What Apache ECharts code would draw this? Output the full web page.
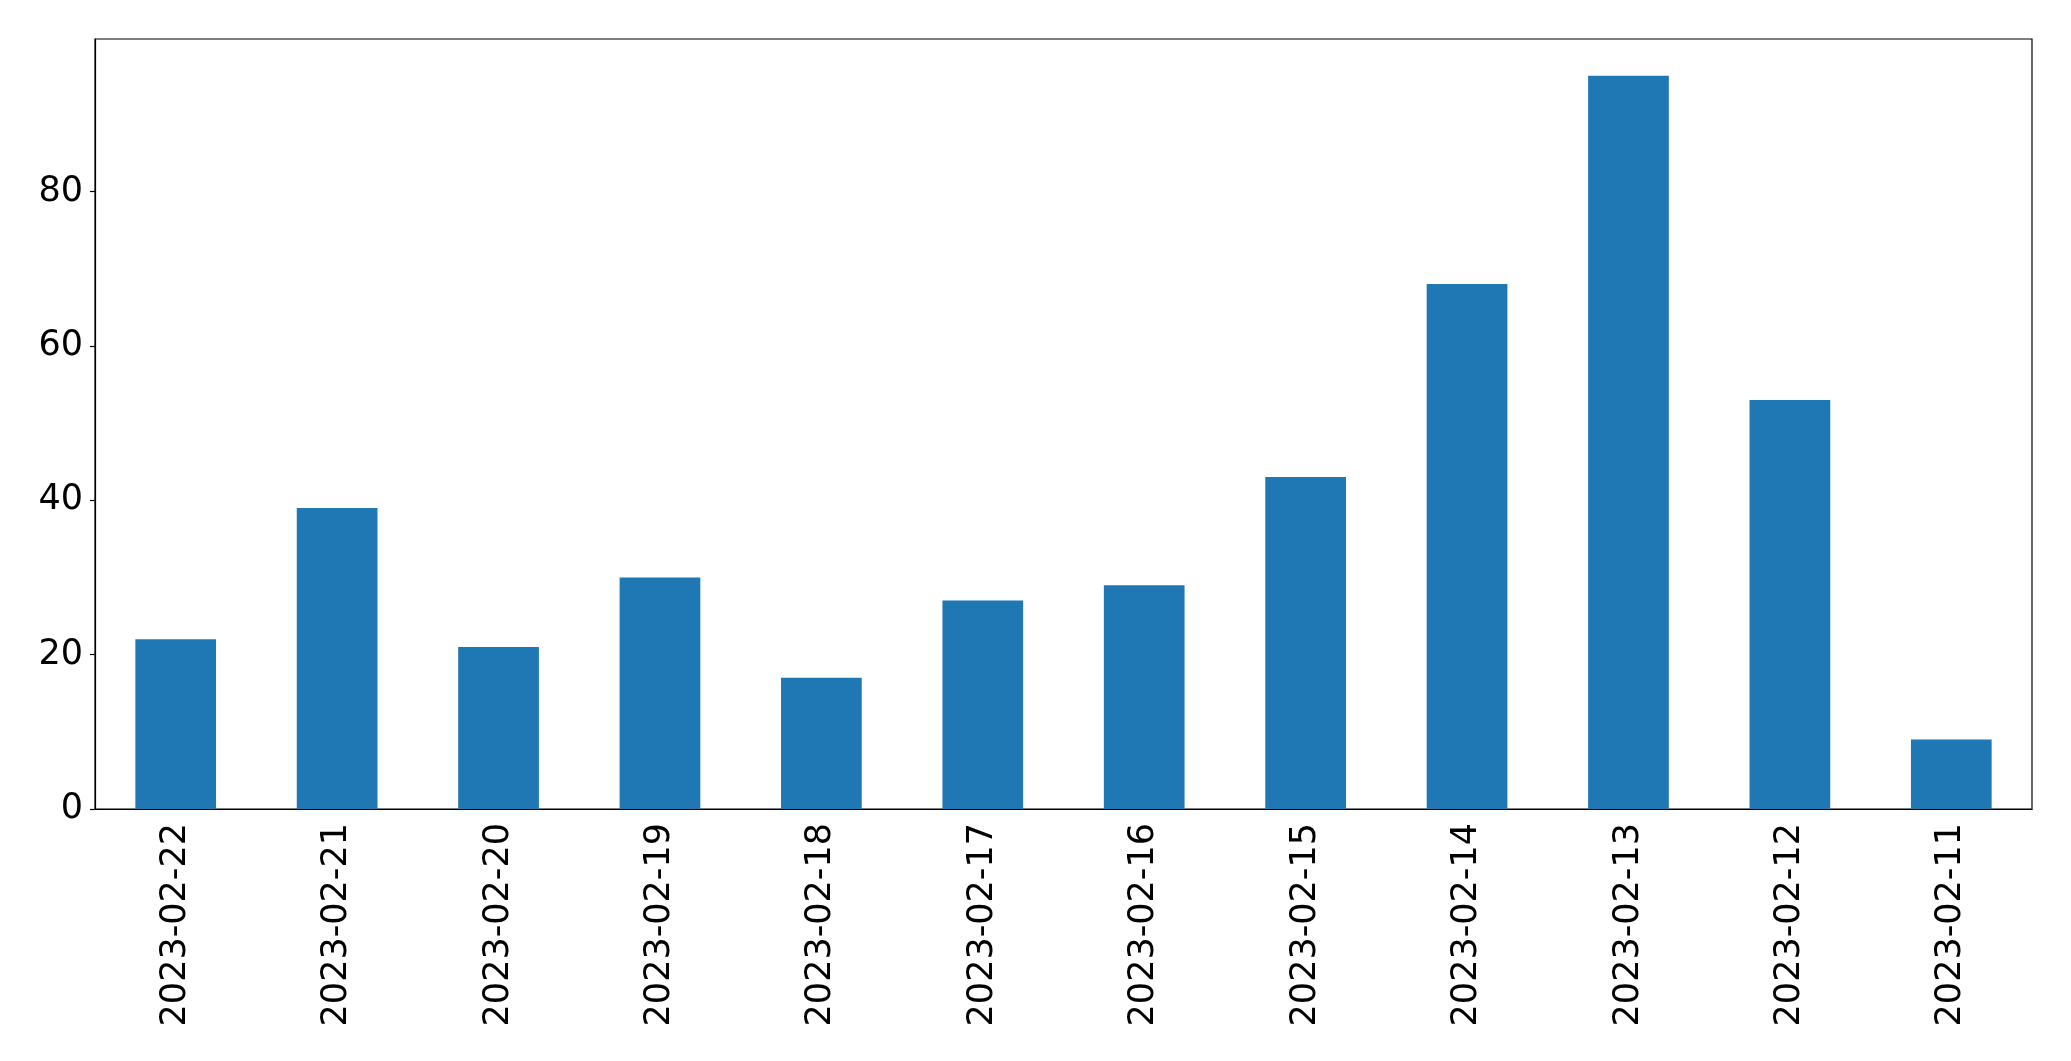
<!DOCTYPE html>
<html lang="en">
<head>
    <meta charset="UTF-8">
    <title>Daily counts</title>
    <script src="https://cdn.jsdelivr.net/npm/echarts@6/dist/echarts.min.js"></script>
    <style>
        html, body {
            margin: 0;
            padding: 0;
            background: #ffffff;
        }

        #chart {
            width: 2071px;
            height: 1061px;
        }
    </style>
</head>
<body>
    <div id="chart"></div>

    <script>
        // dates as they appear on the x axis (newest first)
        var dates = [
            '2023-02-22', '2023-02-21', '2023-02-20', '2023-02-19',
            '2023-02-18', '2023-02-17', '2023-02-16', '2023-02-15',
            '2023-02-14', '2023-02-13', '2023-02-12', '2023-02-11'
        ];

        // bar heights
        var counts = [22, 39, 21, 30, 17, 27, 29, 43, 68, 95, 53, 9];

        var yTicks = [0, 20, 40, 60, 80];

        var chart = echarts.init(document.getElementById('chart'));

        var font = 'DejaVu Sans';

        chart.setOption({
            animation: false,
            grid: {
                left: 95,
                right: 39,
                top: 39,
                bottom: 252,
                show: true,
                borderColor: '#000000',
                borderWidth: 1.2,
                backgroundColor: 'transparent'
            },
            xAxis: {
                type: 'category',
                data: dates,
                boundaryGap: true,
                axisLine: { lineStyle: { color: '#000000', width: 1.2 } },
                axisTick: {
                    alignWithLabel: true,
                    length: 5,
                    lineStyle: { color: '#000000', width: 1.2 }
                },
                axisLabel: {
                    rotate: 90,
                    margin: 14,
                    interval: 0,
                    color: '#000000',
                    fontFamily: font,
                    fontSize: 35
                },
                splitLine: { show: false }
            },
            yAxis: {
                type: 'value',
                min: 0,
                max: 99.75,   // matplotlib pads 95 by 5%
                interval: 20,
                axisLine: { show: true, lineStyle: { color: '#000000', width: 1.2 } },
                axisTick: {
                    show: true,
                    length: 5,
                    customValues: yTicks,
                    lineStyle: { color: '#000000', width: 1.2 }
                },
                axisLabel: {
                    margin: 12,
                    customValues: yTicks,
                    color: '#000000',
                    fontFamily: font,
                    fontSize: 35
                },
                splitLine: { show: false }
            },
            series: [{
                type: 'bar',
                data: counts,
                barWidth: '50%',
                itemStyle: { color: '#1f77b4' }
            }]
        });
    </script>
</body>
</html>
